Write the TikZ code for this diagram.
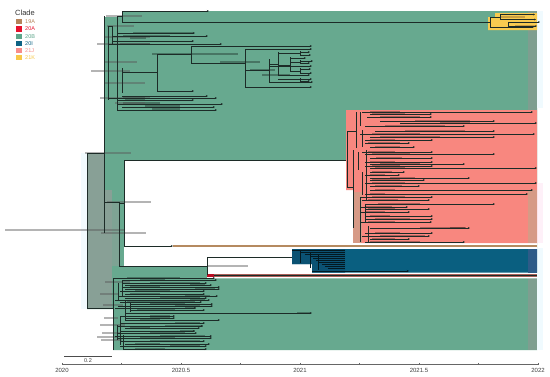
\documentclass[tikz,border=0pt]{standalone}
\usepackage{fontspec}
\setmainfont{Liberation Sans}
\usetikzlibrary{arrows.meta}
\definecolor{gfill}{HTML}{67A98F}
\definecolor{gstrip}{HTML}{7E9E90}
\definecolor{ggray}{HTML}{88A096}
\definecolor{pfill}{HTML}{F8877F}
\definecolor{ptan}{HTML}{D69A86}
\definecolor{bfill}{HTML}{0A5F80}
\definecolor{bdark}{HTML}{0B5273}
\definecolor{bstrip}{HTML}{2E5B88}
\definecolor{yfill}{HTML}{F8CB50}
\definecolor{tanc}{HTML}{B58A60}
\definecolor{redc}{HTML}{A85E58}
\definecolor{brc}{HTML}{1C2B27}
\definecolor{c19A}{HTML}{B5835A}
\definecolor{c20A}{HTML}{E8112D}
\definecolor{c20B}{HTML}{5DA58A}
\definecolor{c20I}{HTML}{0E6384}
\definecolor{c21J}{HTML}{F88D8A}
\definecolor{c21K}{HTML}{F8C847}
\tikzset{
  br/.style={draw=brc, line width=0.6pt},
  tipbr/.style={br, -{Stealth[length=2.2pt,width=2pt]}},
  ytip/.style={draw=brc, line width=0.45pt, -{Stealth[length=1.8pt,width=1.6pt]}},
  ci/.style={draw=black, line width=2pt, opacity=0.3, line cap=butt},
  cil/.style={draw=black!65, line width=1.4pt, opacity=0.45, line cap=butt},
  blbr/.style={draw=black!75!c20I, line width=0.5pt},
  legtxt/.style={font=\fontsize{5.5}{6}\selectfont, inner sep=0pt, anchor=west},
  axlab/.style={font=\fontsize{6}{7}\selectfont, text=black!75, inner sep=0pt},
}
\begin{document}
\begin{tikzpicture}[x=1pt,y=-1pt]
\useasboundingbox (0,0) rectangle (550,376);
\fill[white] (0,0) rectangle (550,376);
% ---------- clade highlights ----------
\fill[gfill] (104,17) -- (122,17) -- (122,11) -- (537,11) -- (537,350) -- (113,350)
  -- (113,309) -- (87,309) -- (87,153) -- (104,153) -- cycle;
\fill[ggray] (87,153) rectangle (104,309);
\fill[ggray] (104,190) rectangle (112,309);
\fill[ggray!70!gfill] (112,203) rectangle (119,266);
\fill[cyan!5] (81,153) rectangle (87,309);
\fill[gstrip] (528,11) rectangle (537,160);
\fill[gstrip] (528,278) rectangle (537,350);
\fill[cyan!6] (537,11) rectangle (543,108);
\fill[cyan!6] (537,248) rectangle (543,350);
\fill[magenta!6] (537,183) rectangle (543,243);
% white hole
\fill[white] (124,160) -- (537,160) -- (537,278.3) -- (207,278.3) -- (207,266) -- (124,266) -- cycle;
% pink 21J
\fill[pfill] (346,110) -- (537,110) -- (537,243) -- (360,243) -- (360,229) -- (353,229)
  -- (353,190) -- (346,190) -- cycle;
\fill[ptan] (353,192) rectangle (362,243);
\fill[ptan] (528,190) rectangle (537,243);
% yellow 21K
\fill[yfill] (495,13) -- (537,13) -- (537,30) -- (488,30) -- (488,17) -- (495,17) -- cycle;
% tan 19A
\fill[tanc] (173,244.8) rectangle (537,247.3);
% blue 20I
\fill[bfill] (292,249) -- (537,249) -- (537,272.5) -- (312,272.5) -- (312,264) -- (292,264) -- cycle;
\fill[bdark] (292,249) -- (345,249) -- (345,272.5) -- (312,272.5) -- (312,264) -- (292,264) -- cycle;
\fill[bstrip] (528,249) rectangle (537,272.5);
% red 20A
\fill[redc] (207,274) rectangle (537,277);
\fill[c20A!80!black] (207,273.6) rectangle (214,277.4);
% ---------- confidence bars ----------
\foreach \yy/\xa/\xb in {33/133/193, 36/123/170, 38/130/146, 44/120/150, 54/152/238,
  62/220/260, 75/262/290, 70/250/275, 97/123/145, 100/125/145, 103/123/160,
  106/145/180, 109/152/180, 228/450/466}
  \draw[ci] (\xa,\yy) -- (\xb,\yy);
\foreach \yy/\xa/\xb in {16/106/142, 26/107/134, 37/104/150, 44/97/150, 62/105/137,
  71/91/130, 83/105/145, 98/100/150, 103/115/145, 153/85/131, 202/107/151,
  233/101/146, 230/5/125, 266/207/248, 282/105/130, 294/100/118, 305/103/123,
  318/104/118, 325/100/125, 333/102/120, 337/97/118, 340/101/122}
  \draw[cil] (\xa,\yy) -- (\xb,\yy);
% yellow bars
\foreach \yy/\xa/\xb in {14.5/505/530, 17/500/525, 19.5/512/535, 26/515/535}
  \draw[draw=brown!60!black, line width=1.6pt, opacity=0.35] (\xa,\yy) -- (\xb,\yy);
% ---------- tree: verticals ----------
\foreach \xx/\ya/\yb in {104/16/233, 108/26/100, 112/26/45, 117/16/110, 122/11/22,
  122/68/93, 157/54/91, 191/46/63, 245/49/87, 269/59/82, 278/52/76, 290/57/72,
  300/51/56, 300/60/64, 300/68/74, 300/78/81, 87/153/308, 119/202/266,
  124/160/246, 207/257/275, 113/278/350, 118/283/300, 122/280/296, 125/300/320,
  120/316/345, 117/325/340, 130/302/312, 123/335/350,
  347/131/187, 356/112/148, 353/150/228, 360/112/126, 362/130/147, 358/152/170,
  366/150/200, 362/172/195, 360/197/242, 365/205/222, 368/226/242}
  \draw[br] (\xx,\ya) -- (\xx,\yb);
\foreach \xx/\ya/\yb in {490/17/27, 500/14.5/19.5, 508/22/26}
  \draw[draw=brc, line width=0.45pt] (\xx,\ya) -- (\xx,\yb);
% ---------- tree: internal horizontals ----------
\foreach \yy/\xa/\xb in {16/117/122, 22/122/490, 26/108/112, 72/122/157, 54/157/191,
  63/191/245, 70/245/269, 64/269/278, 65/278/290, 53/278/300, 62/290/300, 71/290/300,
  79/278/300, 153/87/104, 202/104/119, 203/119/124, 160/124/346, 266/119/207,
  257/207/292, 308/87/113, 131/347/356, 187/347/353, 275.5/214/537}
  \draw[br] (\xa,\yy) -- (\xb,\yy);
\draw[draw=brc, line width=0.45pt] (490,17) -- (500,17);
% ---------- tree: tips ----------
\foreach \yy/\xa/\xb in {11/122/209, 33/117/195, 36/112/208, 41/112/194, 44/108/222,
  46/191/312, 49/245/312, 52/300/310, 55/300/311, 58/290/306, 61/300/313, 63/300/310,
  66/269/312, 69/300/311, 73/300/312, 75/278/310, 79/300/312, 81/300/310, 82/269/313,
  87/245/312, 91/157/194, 96/122/208, 98/108/217, 100/117/194, 104/117/223,
  107/122/215, 110/117/217, 246/124/173}
  \draw[tipbr] (\xa,\yy) -- (\xb,\yy);
\foreach \yy/\xa/\xb in {14.5/500/535, 19.5/500/536, 22/508/540, 26/508/537, 27/490/534}
  \draw[ytip] (\xa,\yy) -- (\xb,\yy);
% pink clade tips with bars
\foreach \yy/\xa/\xb/\ba/\bb in {112/362/533/370/400, 114/370/432/372/405,
  117/367/432/380/420, 121/380/495/415/470, 123/400/537/440/470, 126/365/465/385/445,
  131/375/495/405/465, 134/360/535/372/420, 137/370/495/380/440, 140/365/433/370/395,
  143/365/410/368/400, 147/370/415/375/400, 152/362/433/368/395, 154/365/495/372/410,
  158/370/433/376/402, 162/365/433/370/395, 164/370/465/380/420, 166/365/433/372/400,
  168/370/537/375/405, 172/370/405/372/392, 175/365/400/370/385, 178/370/470/390/415,
  180/370/425/372/400, 183/365/537/372/405, 186/370/420/375/402, 190/370/533/375/395,
  194/365/528/370/385, 197/360/433/372/405, 200/362/430/368/398, 204/365/495/378/420,
  207/360/408/365/392, 209/365/430/368/395, 212/360/410/365/385, 216/365/433/370/390,
  219/365/433/375/410, 222/360/432/368/395, 228/370/470/420/465, 233/365/433/375/400,
  236/362/430/380/425, 239/370/410/372/395, 242/365/465/370/420}
  {\draw[ci] (\ba,\yy) -- (\bb,\yy);
   \draw[tipbr] (\xa,\yy) -- (\xb,\yy);}
% lower green clade tips with bars
\foreach \yy/\xa/\xb/\ba/\bb in {278/113/215/127/180, 280/122/217/140/165,
  283/122/207/150/200, 285/125/212/190/205, 287/122/220/130/160, 289/125/220/195/215,
  291/120/205/135/170, 294/125/205/130/160, 296/118/218/185/210, 298/125/207/160/200,
  300/115/210/190/205, 302/120/202/127/195, 304/130/213/150/185, 306/118/213/175/200,
  308/115/196/185/196, 310/130/205/137/175, 313/125/312/297/310, 316/120/175/150/170,
  318/125/175/150/170, 320/125/220/140/160, 323/120/205/175/200, 326/117/203/165/203,
  328/125/200/130/150, 331/120/195/180/195, 333/117/197/150/185, 336/115/212/160/205,
  338/118/212/140/175, 341/120/205/150/200, 344/125/210/135/160, 346/120/207/170/200,
  349/123/207/135/165}
  {\draw[ci] (\ba,\yy) -- (\bb,\yy);
   \draw[tipbr] (\xa,\yy) -- (\xb,\yy);}
% blue clade tree
\draw[blbr] (300,250) -- (300,263);
\draw[blbr] (310,252) -- (310,268);
\draw[blbr] (318,255) -- (318,270);
\foreach \yy/\xa in {250/292, 252/300, 254/305, 256/310, 258/313, 260/316, 262/319,
  264/322, 266/325, 268/328}
  \draw[blbr] (\xa,\yy) -- (345,\yy);
\draw[blbr, -{Stealth[length=2.2pt,width=2pt]}] (312,271) -- (409,271);
% ---------- legend ----------
\node[anchor=west, font=\fontsize{7.5}{8}\selectfont, text=black!80, inner sep=0pt] (legtitle) at (15,13) {Clade};
\foreach \k/\cl/\tx in {0/c19A/19A, 1/c20A/20A, 2/c20B/20B, 3/c20I/20I, 4/c21J/21J, 5/c21K/21K}{
  \fill[\cl] (16,{19.2+7.2*\k}) rectangle (21.5,{24.4+7.2*\k});
  \node[legtxt, text=\cl] (leg\k) at (25,{21.8+7.2*\k}) {\tx};
}
% ---------- scale bar ----------
\draw[black!70, line width=0.6pt] (64,356) -- (112,356);
\node[font=\fontsize{5.5}{6}\selectfont, text=black!75, inner sep=0pt] (scalelab) at (88,361) {0.2};
% ---------- time axis ----------
\draw[black!60, line width=0.5pt] (62,364.5) -- (538,364.5);
\foreach \i in {0,...,8}
  \draw[black!60, line width=0.5pt] ({62+59.5*\i},362.8) -- ({62+59.5*\i},364.5);
\node[axlab] (ax0) at (62,370.5) {2020};
\node[axlab] (ax1) at (181,370.5) {2020.5};
\node[axlab] (ax2) at (300,370.5) {2021};
\node[axlab] (ax3) at (419,370.5) {2021.5};
\node[axlab] (ax4) at (538,370.5) {2022};
\end{tikzpicture}
\end{document}
